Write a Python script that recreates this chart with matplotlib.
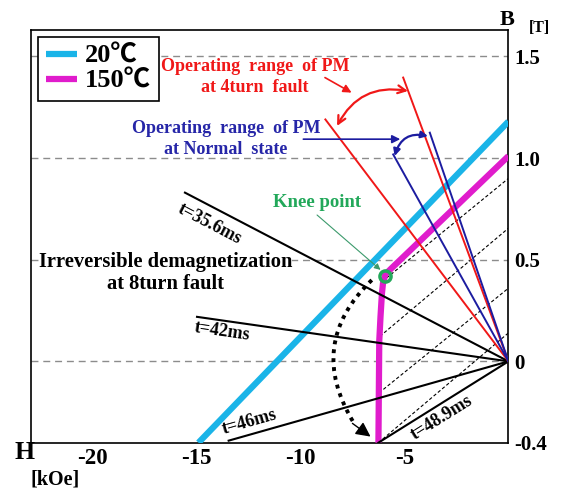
import numpy as np
import matplotlib
matplotlib.use("Agg")
import matplotlib.pyplot as plt

plt.rcParams['font.family'] = ['Liberation Serif', 'Noto Sans CJK JP', 'DejaVu Sans']
plt.rcParams['font.weight'] = 'bold'

# ---------------- data ----------------
cyan_H = [-14.9, 0.0]
cyan_B = [-0.40, 1.18]

mag_H = [0.0, -5.6, -5.8, -5.93, -6.03, -6.08, -6.15, -6.21, -6.25]
mag_B = [1.01, 0.46, 0.44, 0.425, 0.385, 0.336, 0.22, 0.10, -0.40]

# recoil (dashed) lines: start on 150C curve, end on B axis
recoil_H0 = [-5.86, -6.18, -6.22, -6.25]
recoil_B0 = [0.41, 0.123, -0.155, -0.40]
recoil_B1 = [0.90, 0.655, 0.36, 0.14]

# load lines during 8turn fault
t_labels = ['t=35.6ms', 't=42ms', 't=46ms', 't=48.9ms']
t_H = [-15.55, -14.97, -13.45, -6.25]
t_B = [0.83, 0.219, -0.39, -0.40]
t_lab_H = [-14.35, -13.75, -12.45, -3.2]
t_lab_B = [0.675, 0.148, -0.30, -0.275]

# operating ranges
red_H = [-8.8, -5.06]
red_B = [1.19, 1.396]
blue_H = [-5.54, -3.78]
blue_B = [1.018, 1.125]

knee_H, knee_B = -5.94, 0.421

grid_B = [0.0, 0.5, 1.0, 1.5]
yticks = [-0.4, 0.0, 0.5, 1.0, 1.5]
ytick_labels = ['-0.4', '0', '0.5', '1.0', '1.5']
xticks = [-20, -15, -10, -5]
xtick_labels = ['-20', '-15', '-10', '-5']

CYAN = '#1ab4e8'
MAG = '#e01ccc'
RED = '#f01818'
BLUE = '#1c1ca0'
BLUE_T = '#2626a8'
GREEN = '#22a85a'

# ---------------- figure ----------------
fig = plt.figure(figsize=(5.63, 4.91), dpi=100)
ax = fig.add_axes([0.0551, 0.0984, 0.848, 0.8405])
ax.set_xlim(-22.95, 0.0)
ax.set_ylim(-0.4, 1.63)
for s in ax.spines.values():
    s.set_linewidth(1.2)

for b in grid_B:
    ax.axhline(b, color='#8c8c8c', lw=1.0, dashes=(5, 3.5), zorder=1)

ax.yaxis.tick_right()
ax.set_yticks(yticks)
ax.set_yticklabels(ytick_labels, fontsize=15, fontweight='bold')
ax.set_xticks(xticks)
ax.set_xticklabels(xtick_labels, fontsize=16.5, fontweight='bold')
ax.tick_params(axis='y', length=0, pad=4)
ax.tick_params(axis='x', length=0, pad=4)

# B-H curves
l20, = ax.plot(cyan_H, cyan_B, color=CYAN, lw=4.5, solid_capstyle='butt', zorder=3, label='20℃')
l150, = ax.plot(mag_H, mag_B, color=MAG, lw=4.5, solid_capstyle='butt', zorder=3, label='150℃')

# recoil lines
for h0, b0, b1 in zip(recoil_H0, recoil_B0, recoil_B1):
    ax.plot([h0, 0.0], [b0, b1], color='black', lw=0.8, dashes=(3, 2), zorder=2)

# load lines
for h, b in zip(t_H, t_B):
    ax.plot([h, 0.0], [b, 0.0], color='black', lw=1.5, zorder=4)
for lab, h, b, lh, lb in zip(t_labels, t_H, t_B, t_lab_H, t_lab_B):
    ang = np.degrees(np.arctan2(-b, -h))
    ax.text(lh, lb, lab, fontsize=13, fontweight='bold', ha='center', va='center',
            rotation=ang, transform_rotates_text=True, rotation_mode='anchor', zorder=6)

# operating range lines
for h, b in zip(red_H, red_B):
    ax.plot([h, 0.0], [b, 0.0], color=RED, lw=1.4, zorder=5)
for h, b in zip(blue_H, blue_B):
    ax.plot([h, 0.0], [b, 0.0], color=BLUE, lw=1.4, zorder=5)

# arcs / arrows
ax.annotate('', xy=(-4.83, 1.33), xytext=(-8.24, 1.158),
            arrowprops=dict(arrowstyle='<->', color=RED, lw=1.6, mutation_scale=14,
                            shrinkA=0, shrinkB=0, connectionstyle='arc3,rad=-0.36'), zorder=6)
ax.annotate('', xy=(-7.54, 1.322), xytext=(-8.82, 1.396),
            arrowprops=dict(arrowstyle='-|>', color=RED, lw=1.2, mutation_scale=12,
                            shrinkA=0, shrinkB=0), zorder=6)
ax.annotate('', xy=(-3.87, 1.108), xytext=(-5.47, 1.01),
            arrowprops=dict(arrowstyle='<|-|>', color=BLUE, lw=1.6, mutation_scale=10,
                            shrinkA=0, shrinkB=0, connectionstyle='arc3,rad=-0.46'), zorder=6)
ax.annotate('', xy=(-5.2, 1.093), xytext=(-9.86, 1.093),
            arrowprops=dict(arrowstyle='-|>', color=BLUE, lw=1.2, mutation_scale=12,
                            shrinkA=0, shrinkB=0), zorder=6)
# dotted curved arrow (irreversible demagnetization)
ax.annotate('', xy=(-7.45, -0.30), xytext=(-6.57, 0.40),
            arrowprops=dict(arrowstyle='-', color='black', lw=2.8, linestyle=(0, (1, 1.3)),
                            capstyle='butt', shrinkA=0, shrinkB=0,
                            connectionstyle='arc3,rad=0.4'), zorder=6)
ax.annotate('', xy=(-6.63, -0.37), xytext=(-7.5, -0.305),
            arrowprops=dict(arrowstyle='-|>', color='black', lw=1.0,
                            mutation_scale=22, shrinkA=0, shrinkB=0), zorder=6)

# knee point
ax.annotate('', xy=(-6.15, 0.45), xytext=(-9.2, 0.72),
            arrowprops=dict(arrowstyle='-|>', color='#3c9a6c', lw=0.8, mutation_scale=9,
                            shrinkA=0, shrinkB=0), zorder=6)
ax.plot([knee_H], [knee_B], 'o', ms=8, mfc='none', mec=GREEN, mew=2.5, zorder=7)
ax.text(-9.2, 0.78, 'Knee point', color=GREEN, fontsize=13.5, fontweight='bold',
        ha='center', va='center', zorder=6)

# texts
ax.text(-12.19, 1.40, 'Operating  range  of PM\nat 4turn  fault', color=RED, fontsize=13,
        fontweight='bold', ha='center', va='center', linespacing=1.3, zorder=6)
ax.text(-13.58, 1.094, 'Operating  range  of PM\nat Normal  state', color=BLUE_T, fontsize=13,
        fontweight='bold', ha='center', va='center', linespacing=1.25, zorder=6)
ax.text(-16.5, 0.436, 'Irreversible demagnetization\nat 8turn fault', color='black', fontsize=14.8,
        fontweight='bold', ha='center', va='center', linespacing=1.15, zorder=6,
        bbox=dict(facecolor='white', edgecolor='none', pad=0))

ax.text(-0.07, 1.68, 'B', fontsize=16, fontweight='bold', ha='center', va='center', clip_on=False)
ax.text(1.47, 1.64, '[T]', fontsize=11.5, fontweight='bold', ha='center', va='center', clip_on=False)
ax.text(-23.25, -0.45, 'H', fontsize=18.5, fontweight='bold', ha='center', va='center', clip_on=False)
ax.text(-21.8, -0.58, '[kOe]', fontsize=14.5, fontweight='bold', ha='center', va='center', clip_on=False)

leg = ax.legend(handles=[l20, l150], loc='upper left', fontsize=19, frameon=True, fancybox=False,
                edgecolor='black', framealpha=1, handlelength=1.2, handletextpad=0.3,
                labelspacing=0.05, borderpad=0.3, borderaxespad=0.25)
leg.get_frame().set_linewidth(1.2)
for t in leg.get_texts():
    t.set_fontweight('bold')

fig.savefig('out.png', dpi=100)
